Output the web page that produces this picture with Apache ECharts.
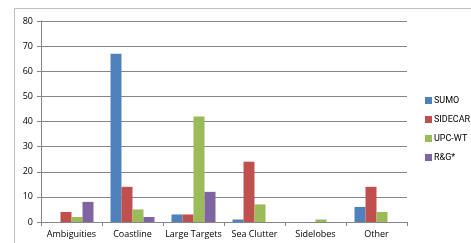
<!DOCTYPE html>
<html>
<head>
<meta charset="utf-8">
<script src="https://cdn.jsdelivr.net/npm/echarts@6/dist/echarts.min.js"></script>
<style>
  html, body { margin: 0; padding: 0; background: #fff; }
  #main { width: 471px; height: 243px; }
</style>
</head>
<body>
<div id="main"></div>
<script>
// categories and series
var categories = ['Ambiguities', 'Coastline', 'Large Targets', 'Sea Clutter', 'Sidelobes', 'Other'];
var sumo    = [0, 67, 3, 1, 0, 6];
var sidecar = [4, 14, 3, 24, 0, 14];
var upcwt   = [2, 5, 42, 7, 1, 4];
var rg      = [8, 2, 12, 0, 0, 0];
var yTicks  = [0, 10, 20, 30, 40, 50, 60, 70, 80];

var myChart = echarts.init(document.getElementById('main'));

function bar(name, data, color) {
  return {
    name: name,
    type: 'bar',
    data: data,
    barWidth: 11,
    barGap: '0%',
    itemStyle: { color: color },
    animation: false
  };
}

var option = {
  backgroundColor: '#fff',
  textStyle: { fontFamily: 'Open Sans', color: '#000' },
  graphic: [{
    type: 'rect',
    shape: { x: 14.5, y: 8.5, width: 470, height: 250 },
    style: { fill: 'none', stroke: '#bfbfbf', lineWidth: 1 }
  }],
  grid: { left: 41, right: 64, top: 21, bottom: 21 },
  legend: {
    orient: 'vertical',
    left: 425,
    top: 96,
    padding: 0,
    itemWidth: 7,
    itemHeight: 7,
    itemGap: 10,
    icon: 'rect',
    textStyle: { fontSize: 9, fontFamily: 'Roboto', color: '#000', padding: [0, 0, 0, -3] },
    data: ['SUMO', 'SIDECAR', 'UPC-WT', 'R&G*']
  },
  xAxis: {
    type: 'category',
    data: categories,
    axisLine: { lineStyle: { color: '#868686' } },
    axisTick: { show: true, length: 4, lineStyle: { color: '#868686' } },
    axisLabel: { fontSize: 9, color: '#000', margin: 8, interval: 0 }
  },
  yAxis: {
    type: 'value',
    min: yTicks[0],
    max: yTicks[yTicks.length - 1],
    interval: 10,
    axisLine: { show: true, lineStyle: { color: '#868686' } },
    axisTick: { show: true, length: 4, lineStyle: { color: '#868686' } },
    axisLabel: { fontSize: 9, color: '#000', margin: 8 },
    splitLine: { lineStyle: { color: '#868686' } }
  },
  series: [
    bar('SUMO', sumo, '#4f81bd'),
    bar('SIDECAR', sidecar, '#c0504d'),
    bar('UPC-WT', upcwt, '#9bbb59'),
    bar('R&G*', rg, '#8064a2')
  ]
};

myChart.setOption(option);
</script>
</body>
</html>
